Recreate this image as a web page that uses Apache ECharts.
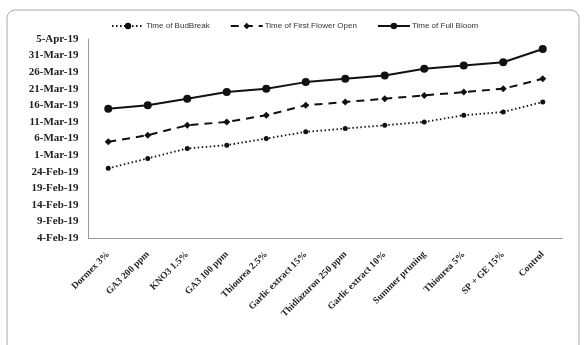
<!DOCTYPE html>
<html><head><meta charset="utf-8">
<script src="https://cdn.jsdelivr.net/npm/echarts@6/dist/echarts.min.js"></script>
<style>html,body{margin:0;padding:0;background:#fff}#c{width:585px;height:345px}</style>
</head><body><div id="c"></div>
<script>
const categories = ['Dormex 3%','GA3 200 ppm','KNO3 1.5%','GA3 100 ppm','Thiourea 2.5%','Garlic extract 15%','Thidiazuron 250 ppm','Garlic extract 10%','Summer pruning','Thiourea 5%','SP + GE 15%','Control'];
const budBreak = ['25-Feb-19','28-Feb-19','3-Mar-19','4-Mar-19','6-Mar-19','8-Mar-19','9-Mar-19','10-Mar-19','11-Mar-19','13-Mar-19','14-Mar-19','17-Mar-19'];
const firstFlower = ['5-Mar-19','7-Mar-19','10-Mar-19','11-Mar-19','13-Mar-19','16-Mar-19','17-Mar-19','18-Mar-19','19-Mar-19','20-Mar-19','21-Mar-19','24-Mar-19'];
const fullBloom = ['15-Mar-19','16-Mar-19','18-Mar-19','20-Mar-19','21-Mar-19','23-Mar-19','24-Mar-19','25-Mar-19','27-Mar-19','28-Mar-19','29-Mar-19','2-Apr-19'];
const seriesNames = ['Time of BudBreak','Time of First Flower Open','Time of Full Bloom'];
const axisMin = '4-Feb-19', axisMax = '5-Apr-19';

const MON = ['Jan','Feb','Mar','Apr','May','Jun','Jul','Aug','Sep','Oct','Nov','Dec'];
const MDAYS = [31,28,31,30,31,30,31,31,30,31,30,31];
function toDay(s){const p=s.split('-');const m=MON.indexOf(p[1]);let d=+p[0];for(let i=0;i<m;i++)d+=MDAYS[i];return d;}
function fromDay(n){let m=0;while(n>MDAYS[m]){n-=MDAYS[m];m++;}return n+'-'+MON[m]+'-19';}

const chart = echarts.init(document.getElementById('c'));
const mk = (name, data, type, width, symbol, size) => ({
  name, type:'line', data:data.map(toDay), symbol, symbolSize:size,
  lineStyle:{color:'#111', width, type}, itemStyle:{color:'#111'}, animation:false
});
chart.setOption({
  animation:false,
  graphic:[{type:'rect', shape:{x:7,y:10,width:572,height:350,r:8}, style:{fill:'none',stroke:'#aaa',lineWidth:1}, z:-1}],
  legend:{top:17, left:106, itemWidth:32, itemHeight:8, itemGap:20,
    textStyle:{fontFamily:'Liberation Sans Narrow, Liberation Sans, Arial', fontSize:8, color:'#333', padding:[0,0,0,-3]},
    data:seriesNames},
  grid:{left:88.5, right:22.5, top:39, bottom:107},
  xAxis:{type:'category', data:categories, boundaryGap:true,
    axisLine:{lineStyle:{color:'#999'}}, axisTick:{show:false},
    axisLabel:{rotate:45, interval:0, margin:15, fontFamily:'Liberation Serif, Times New Roman, serif', fontWeight:'bold', fontSize:9.5, color:'#222'}},
  yAxis:{type:'value', min:toDay(axisMin), max:toDay(axisMax), interval:5,
    axisLine:{show:true, lineStyle:{color:'#999'}}, axisTick:{show:false}, splitLine:{show:false},
    axisLabel:{formatter:v=>fromDay(v), margin:10, fontFamily:'Liberation Serif, Times New Roman, serif', fontWeight:'bold', fontSize:11, color:'#222'}},
  series:[
    mk(seriesNames[0], budBreak, [1.5,2.5], 1.8, 'circle', 5),
    mk(seriesNames[1], firstFlower, [8,6], 2, 'diamond', 7),
    mk(seriesNames[2], fullBloom, 'solid', 2, 'circle', 8)
  ]
});
</script></body></html>
